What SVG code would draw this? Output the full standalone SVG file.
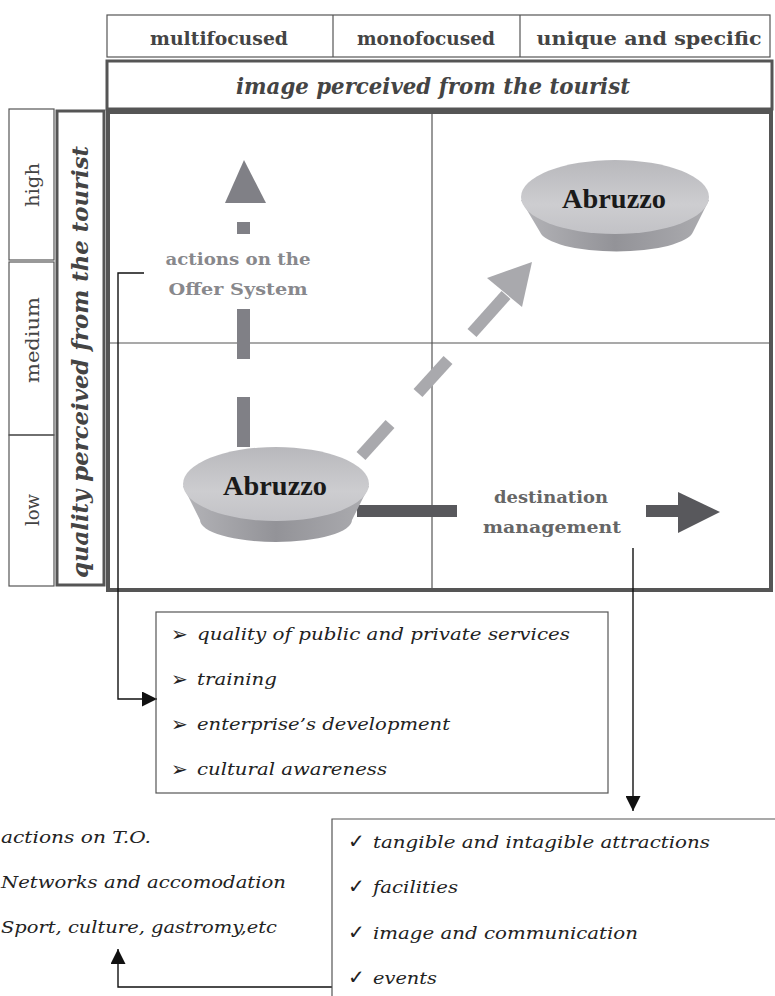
<svg xmlns="http://www.w3.org/2000/svg" width="775" height="996" viewBox="0 0 775 996">
<style>
.hdr{font-family:"DejaVu Serif","Liberation Serif",serif;font-weight:bold;font-size:19px;fill:#444;text-anchor:middle}
.ttl{font-family:"DejaVu Serif","Liberation Serif",serif;font-weight:bold;font-style:italic;font-size:23px;fill:#444;text-anchor:middle}
.lvl{font-family:"DejaVu Serif","Liberation Serif",serif;font-size:19px;fill:#444;text-anchor:middle}
.abr{font-family:"Liberation Serif","DejaVu Serif",serif;font-weight:bold;font-size:28px;fill:#1a1a1a;text-anchor:middle}
.lab{font-family:"DejaVu Serif","Liberation Serif",serif;font-weight:bold;font-size:17px;text-anchor:middle}
.itm{font-family:"DejaVu Serif","Liberation Serif",serif;font-style:italic;font-size:17px;fill:#222}
.bul{font-family:"DejaVu Sans",sans-serif;font-size:20px;fill:#222}
.thin{fill:none;stroke:#555;stroke-width:1.2}
.conn{fill:none;stroke:#111;stroke-width:1.4}
</style>
<defs>
<linearGradient id="top" x1="0" y1="0" x2="0" y2="1">
<stop offset="0" stop-color="#b8b8bc"/><stop offset="0.6" stop-color="#cdcdd0"/><stop offset="1" stop-color="#c2c2c6"/>
</linearGradient>
<linearGradient id="side" x1="0" y1="0" x2="1" y2="0">
<stop offset="0" stop-color="#b4b4b8"/><stop offset="0.5" stop-color="#939398"/><stop offset="1" stop-color="#acacb0"/>
</linearGradient>
<marker id="ah" viewBox="0 0 10 10" refX="10" refY="5" markerWidth="17" markerHeight="15" orient="auto" markerUnits="userSpaceOnUse">
<path d="M0,0 L10,5 L0,10 Z" fill="#111"/>
</marker>
</defs>
<rect width="775" height="996" fill="#fff"/>

<g id="header-row">
<rect x="107" y="15" width="663" height="42" class="thin"/>
<line x1="333" y1="15" x2="333" y2="57" class="thin"/>
<line x1="520" y1="15" x2="520" y2="57" class="thin"/>
<text class="hdr" x="219" y="45" textLength="138" lengthAdjust="spacingAndGlyphs">multifocused</text>
<text class="hdr" x="426" y="45" textLength="138" lengthAdjust="spacingAndGlyphs">monofocused</text>
<text class="hdr" x="649" y="45" textLength="225" lengthAdjust="spacingAndGlyphs">unique and specific</text>
</g>

<g id="image-title">
<rect x="107" y="61" width="665" height="48" fill="none" stroke="#555" stroke-width="3"/>
<text class="ttl" x="433" y="94" textLength="394" lengthAdjust="spacingAndGlyphs">image perceived from the tourist</text>
</g>

<g id="levels">
<rect x="9" y="109" width="45" height="151" class="thin"/>
<rect x="9" y="262" width="45" height="173" class="thin"/>
<rect x="9" y="435" width="45" height="151" class="thin"/>
<text class="lvl" transform="translate(39,185) rotate(-90)" textLength="44" lengthAdjust="spacingAndGlyphs">high</text>
<text class="lvl" transform="translate(39,340) rotate(-90)" textLength="86" lengthAdjust="spacingAndGlyphs">medium</text>
<text class="lvl" transform="translate(39,510) rotate(-90)" textLength="32" lengthAdjust="spacingAndGlyphs">low</text>
</g>

<g id="quality-title">
<rect x="57" y="111" width="47" height="474" fill="none" stroke="#555" stroke-width="3"/>
<text class="ttl" transform="translate(88,362) rotate(-90)" textLength="432" lengthAdjust="spacingAndGlyphs">quality perceived from the tourist</text>
</g>

<g id="grid">
<rect x="108" y="112" width="663" height="478" fill="none" stroke="#555" stroke-width="4"/>
<line x1="432" y1="112" x2="432" y2="590" class="thin"/>
<line x1="108" y1="343" x2="771" y2="343" class="thin"/>
</g>

<g id="connectors">
<g fill="#808086">
<polygon points="244,160 225,203 266,203"/>
<rect x="237" y="222" width="13" height="12"/>
<rect x="237" y="309" width="13" height="50"/>
<rect x="237" y="397" width="13" height="50"/>
</g>
<text class="lab" x="238" y="265" fill="#88888c" textLength="145" lengthAdjust="spacingAndGlyphs">actions on the</text>
<text class="lab" x="238" y="295" fill="#88888c" textLength="139" lengthAdjust="spacingAndGlyphs">Offer System</text>
<g stroke="#a9a9ad" stroke-width="12" fill="none">
<line x1="361" y1="456" x2="390" y2="424"/>
<line x1="418" y1="393" x2="448" y2="360"/>
<line x1="472" y1="333" x2="506" y2="295"/>
</g>
<polygon points="532,262 487,278 522,307" fill="#a9a9ad"/>
<g fill="#58585c">
<rect x="357" y="505" width="100" height="12"/>
<rect x="646" y="505" width="36" height="12"/>
<polygon points="678,492 720,512 678,533"/>
</g>
<text class="lab" x="551" y="503" fill="#666" textLength="114" lengthAdjust="spacingAndGlyphs">destination</text>
<text class="lab" x="552" y="533" fill="#666" textLength="138" lengthAdjust="spacingAndGlyphs">management</text>
<polyline class="conn" points="144,273 118,273 118,699 157,699" marker-end="url(#ah)"/>
<polyline class="conn" points="633,548 633,811" marker-end="url(#ah)"/>
<polyline class="conn" points="332,987 118,987 118,949" marker-end="url(#ah)"/>
</g>

<g id="abruzzo-high">
<path d="M521,200 L540,232 A77,22 0 0 0 693,232 L709,200 Z" fill="url(#side)"/>
<ellipse cx="615" cy="197" rx="94" ry="37" fill="url(#top)"/>
<text class="abr" x="614" y="208" textLength="104" lengthAdjust="spacingAndGlyphs">Abruzzo</text>
</g>

<g id="abruzzo-low">
<path d="M183,486 L200,520 A76,22 0 0 0 352,520 L369,486 Z" fill="url(#side)"/>
<ellipse cx="276" cy="484" rx="93" ry="37" fill="url(#top)"/>
<text class="abr" x="275" y="495" textLength="104" lengthAdjust="spacingAndGlyphs">Abruzzo</text>
</g>

<g id="offer-box">
<rect x="156" y="612" width="452" height="181" class="thin"/>
<text class="bul" x="171" y="641">➢</text>
<text class="bul" x="171" y="686">➢</text>
<text class="bul" x="171" y="731">➢</text>
<text class="bul" x="171" y="776">➢</text>
<text class="itm" x="197" y="640" textLength="373" lengthAdjust="spacingAndGlyphs">quality of public and private services</text>
<text class="itm" x="197" y="685" textLength="80" lengthAdjust="spacingAndGlyphs">training</text>
<text class="itm" x="197" y="730" textLength="253" lengthAdjust="spacingAndGlyphs">enterprise’s development</text>
<text class="itm" x="197" y="775" textLength="190" lengthAdjust="spacingAndGlyphs">cultural awareness</text>
</g>

<g id="destination-box">
<polyline points="775,819 332,819 332,996" class="thin"/>
<text class="bul" x="348" y="848">✓</text>
<text class="bul" x="348" y="893">✓</text>
<text class="bul" x="348" y="939">✓</text>
<text class="bul" x="348" y="984">✓</text>
<text class="itm" x="373" y="848" textLength="337" lengthAdjust="spacingAndGlyphs">tangible and intagible attractions</text>
<text class="itm" x="373" y="893" textLength="85" lengthAdjust="spacingAndGlyphs">facilities</text>
<text class="itm" x="373" y="939" textLength="265" lengthAdjust="spacingAndGlyphs">image and communication</text>
<text class="itm" x="373" y="984" textLength="64" lengthAdjust="spacingAndGlyphs">events</text>
</g>

<g id="to-actions">
<text class="itm" x="1" y="843" textLength="150" lengthAdjust="spacingAndGlyphs">actions on T.O.</text>
<text class="itm" x="1" y="888" textLength="285" lengthAdjust="spacingAndGlyphs">Networks and accomodation</text>
<text class="itm" x="1" y="933" textLength="276" lengthAdjust="spacingAndGlyphs">Sport, culture, gastromy,etc</text>
</g>
</svg>
